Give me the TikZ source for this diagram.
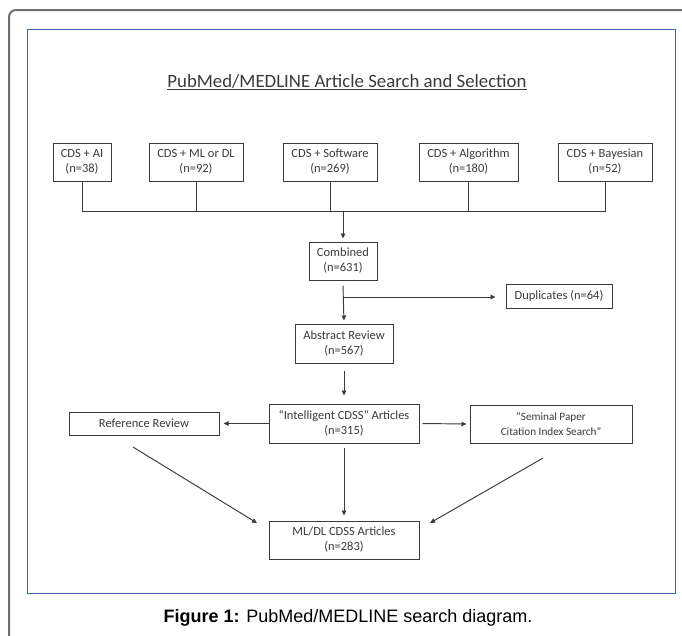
\documentclass[tikz,border=0pt]{standalone}
\usepackage{fontspec}
\setmainfont{Carlito}
\newfontfamily\capfont{Liberation Sans}
\usetikzlibrary{arrows.meta,calc}
\definecolor{framegray}{HTML}{6E6E6E}
\definecolor{frameblue}{HTML}{3B64A8}
\definecolor{inkgray}{HTML}{3A3A3A}
\begin{document}
\begin{tikzpicture}[x=1pt,y=-1pt,
  box/.style={draw=inkgray, line width=1pt, align=center, text=inkgray,
    font=\fontsize{12.5}{15}\selectfont, inner sep=0pt},
  conn/.style={draw=inkgray, line width=0.95pt},
  arr/.style={conn, -{Triangle[length=5pt,width=4.5pt]}}]
\useasboundingbox (0,0) rectangle (682,635);
\begin{scope}
\clip (0,0) rectangle (682,635);
\draw[framegray, line width=2pt, rounded corners=7pt] (9,700) -- (9,10) -- (720,10);
\end{scope}
\draw[frameblue, line width=1pt] (27,29) rectangle (675,593);

% title
\node[anchor=base, inner sep=0pt, text=inkgray, font=\fontsize{18.8}{22}\selectfont] (title) at (347,87)
  {PubMed/MEDLINE Article Search and Selection};
\draw[inkgray, line width=0.9pt] ($(title.base west)+(0,2.8)$) -- ($(title.base east)+(0,2.8)$);

% top row
\node[box, minimum width=58pt, minimum height=38pt] (ai) at (82,162) {CDS + AI\\(n=38)};
\node[box, minimum width=94pt, minimum height=38pt] (ml) at (196,162) {CDS + ML or DL\\(n=92)};
\node[box, minimum width=94pt, minimum height=38pt] (sw) at (330,162) {CDS + Software\\(n=269)};
\node[box, minimum width=99pt, minimum height=38pt] (alg) at (468.5,162) {CDS + Algorithm\\(n=180)};
\node[box, minimum width=94pt, minimum height=38pt] (bay) at (605,162) {CDS + Bayesian\\(n=52)};

\node[box, minimum width=68pt, minimum height=38pt] (comb) at (343,261) {Combined\\(n=631)};
\node[box, minimum width=106pt, minimum height=24pt] (dup) at (559,296) {Duplicates (n=64)};
\node[box, minimum width=98pt, minimum height=39pt] (abs) at (344,343.5) {Abstract Review\\(n=567)};
\node[box, minimum width=150pt, minimum height=39pt] (intel) at (344,423.5) {“Intelligent CDSS” Articles\\(n=315)};
\node[box, minimum width=150pt, minimum height=23pt] (ref) at (144,423.5) {Reference Review};
\node[box, minimum width=162pt, minimum height=38pt, font=\fontsize{11.2}{14.5}\selectfont] (sem) at (551,424) {“Seminal Paper\\Citation Index Search”};
\node[box, minimum width=150pt, minimum height=38pt] (mldl) at (344,540) {ML/DL CDSS Articles\\(n=283)};

% merge lines
\coordinate (hy) at (0,211);
\draw[conn] (ai.south) -- (ai.south |- hy) -- (bay.south |- hy) -- (bay.south);
\draw[conn] (ml.south) -- (ml.south |- hy);
\draw[conn] (sw.south) -- (sw.south |- hy);
\draw[conn] (alg.south) -- (alg.south |- hy);
\draw[arr, shorten >=3pt] (comb.north |- hy) -- (comb.north);

% combined -> abstract, duplicates
\coordinate (br) at (343,297);
\draw[arr, shorten >=3pt] ($(comb.south)+(0,5)$) -- (abs.north);
\draw[arr, shorten >=10pt] (br) -- (br -| dup.west);

% abstract -> intelligent
\draw[arr, shorten >=8pt] ($(abs.south)+(0,7)$) -- (intel.north);

% intelligent -> side boxes
\draw[arr, shorten >=4pt] (intel.west) -- (ref.east);
\draw[arr, shorten <=3pt, shorten >=3pt] (intel.east) -- (sem.west);

% to final
\coordinate (rs) at (133,447);
\coordinate (ss) at (543,458);
\draw[arr] (rs) -- (257,523);
\draw[arr, shorten >=5pt] ($(intel.south)+(0,4)$) -- (mldl.north);
\draw[arr] (ss) -- (430,523);

% caption
\node[anchor=base, inner sep=0pt, font=\capfont\fontsize{18}{20}\selectfont] (cap) at (348,622)
  {\textbf{Figure 1:} PubMed/MEDLINE search diagram.};
\end{tikzpicture}
\end{document}
